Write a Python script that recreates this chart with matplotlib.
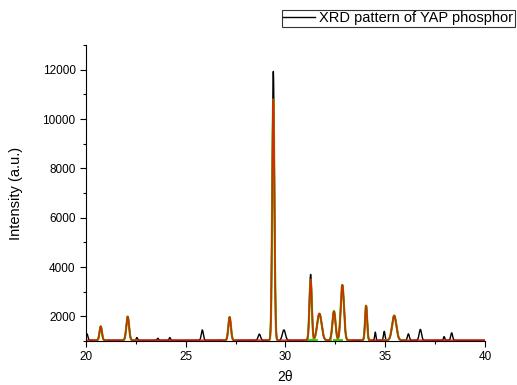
import matplotlib.pyplot as plt
import numpy as np
from matplotlib.ticker import MultipleLocator

plt.rcParams['font.family'] = ['Liberation Sans', 'DejaVu Sans']

# Fitted peaks: position (2theta), height above baseline, FWHM
fit_pos = [20.74, 22.09, 27.20, 29.39, 31.26, 31.70, 32.43, 32.85, 34.04, 35.45]
fit_height = [560, 960, 940, 9760, 2450, 1080, 1180, 2240, 1400, 1000]
fit_fwhm = [0.14, 0.16, 0.15, 0.13, 0.14, 0.26, 0.18, 0.19, 0.12, 0.25]

# Extra peaks only in the measured pattern (not fitted)
extra_pos = [20.05, 22.55, 23.6, 24.2, 25.83, 28.69, 29.92, 34.50, 34.95, 36.16, 36.76, 37.95, 38.33]
extra_height = [260, 110, 80, 110, 420, 250, 420, 330, 360, 260, 440, 150, 300]
extra_fwhm = [0.10, 0.08, 0.08, 0.08, 0.12, 0.14, 0.18, 0.07, 0.09, 0.11, 0.14, 0.07, 0.11]

# observed peak tops where they differ from the fit
obs_height = {29.39: 11930 - 1030, 31.26: 3700 - 1030, 32.43: 2200 - 1030}

baseline = 1030
two_theta = np.linspace(20, 40, 4001)


def peak(x, pos, height, fwhm):
    sigma = fwhm / 2.3548
    return height * np.exp(-0.5 * ((x - pos) / sigma) ** 2)


fig = plt.figure(figsize=(5.17, 3.85), dpi=100)
ax = fig.add_axes([0.1663, 0.1143, 0.7718, 0.7687])

# measured pattern
observed = np.full_like(two_theta, baseline, dtype=float)
for p, h, w in zip(fit_pos, fit_height, fit_fwhm):
    observed += peak(two_theta, p, obs_height.get(p, h), w)
for p, h, w in zip(extra_pos, extra_height, extra_fwhm):
    observed += peak(two_theta, p, h, w)
ax.plot(two_theta, observed, color='black', lw=1.0, label='XRD pattern of YAP phosphor')

# individual fitted peaks
total = np.full_like(two_theta, baseline, dtype=float)
for p, h, w in zip(fit_pos, fit_height, fit_fwhm):
    single = peak(two_theta, p, h, w)
    mask = np.abs(two_theta - p) < 2.2 * w
    ax.plot(two_theta[mask], baseline + single[mask], color='#33cc00', lw=1.6)
    total += single

# cumulative fit
ax.plot(two_theta, total, color='#ee1100', lw=1.2, alpha=0.85)

ax.set_xlim(20, 40)
ax.set_ylim(1000, 13000)
ax.set_xticks([20, 25, 30, 35, 40])
ax.set_yticks([2000, 4000, 6000, 8000, 10000, 12000])
ax.xaxis.set_minor_locator(MultipleLocator(2.5))
ax.yaxis.set_minor_locator(MultipleLocator(1000))
ax.tick_params(which='major', direction='out', length=4, width=0.8, labelsize=8.5)
ax.tick_params(which='minor', direction='out', length=2.5, width=0.8)
for side in ['top', 'right']:
    ax.spines[side].set_visible(False)

ax.set_xlabel('2θ', fontsize=10, labelpad=5)
ax.set_ylabel('Intensity (a.u.)', fontsize=10.5, labelpad=14)

leg = fig.legend(loc='upper right', bbox_to_anchor=(0.996, 0.974), fontsize=10.5,
                 frameon=True, fancybox=False, handlelength=2.2,
                 borderpad=0.1, handletextpad=0.3, borderaxespad=0)
leg.get_frame().set_edgecolor('black')
leg.get_frame().set_linewidth(0.8)

plt.savefig('out.png', dpi=100)
